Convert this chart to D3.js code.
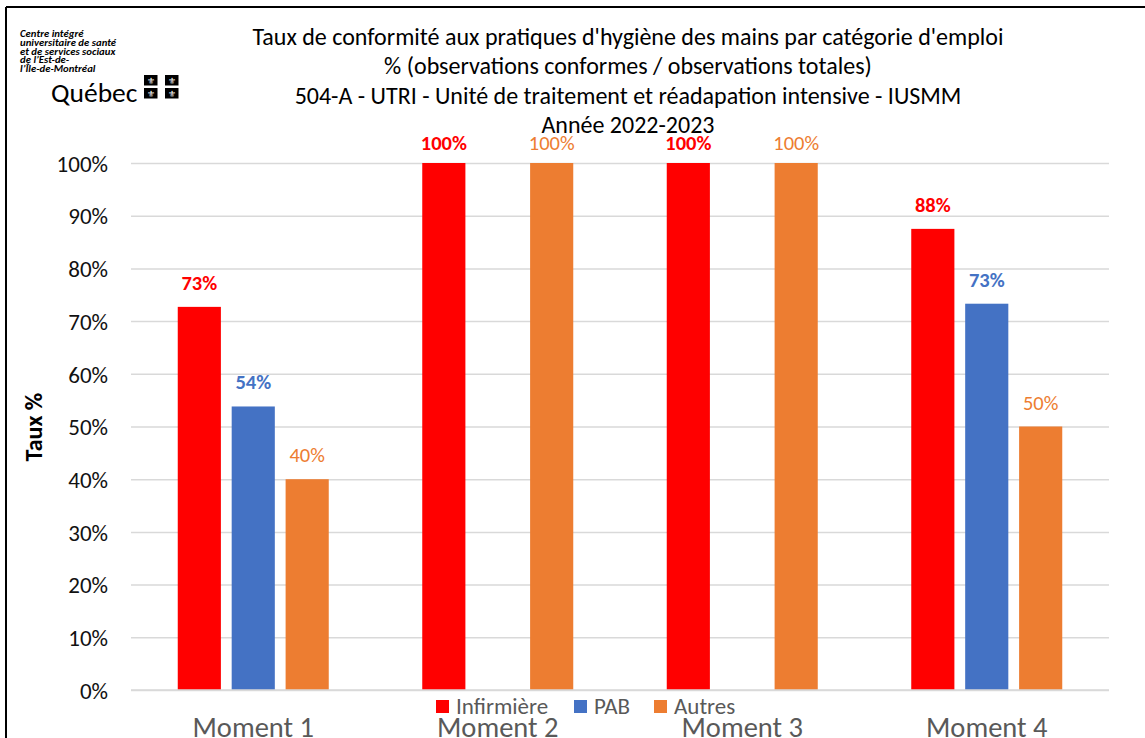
<!DOCTYPE html>
<html><head><meta charset="utf-8">
<script src="https://cdn.jsdelivr.net/npm/d3@7"></script>
<style>
body{margin:0;background:#fff;}
svg{display:block;}
text{font-family:Carlito, Calibri, Lato, "Open Sans", sans-serif;}
</style></head>
<body>
<svg id="chart" width="1145" height="738"></svg>
<script>
const categories = ["Moment 1", "Moment 2", "Moment 3", "Moment 4"];
const seriesNames = ["Infirmière", "PAB", "Autres"];
const infirmiere = [0.727, 1.0, 1.0, 0.875];
const pab = [0.538, null, null, 0.733];
const autres = [0.40, 1.0, 1.0, 0.50];
const yTicks = [0, 0.1, 0.2, 0.3, 0.4, 0.5, 0.6, 0.7, 0.8, 0.9, 1.0];
const titleLines = [
  "Taux de conformité aux pratiques d'hygiène des mains par catégorie d'emploi",
  "% (observations conformes / observations totales)",
  "504-A - UTRI - Unité de traitement et réadapation intensive - IUSMM",
  "Année 2022-2023"
];
const logoLines = ["Centre intégré", "universitaire de santé", "et de services sociaux", "de l’Est-de-", "l’Île-de-Montréal"];

const colors = {"Infirmière": "#FF0000", "PAB": "#4472C4", "Autres": "#ED7D31"};
const labelWeight = {"Infirmière": "bold", "PAB": "bold", "Autres": "normal"};
const seriesData = {"Infirmière": infirmiere, "PAB": pab, "Autres": autres};

const svg = d3.select("#chart");

// frame
svg.append("line").attr("x1", 6).attr("x2", 1145).attr("y1", 7).attr("y2", 7).attr("stroke", "#000").attr("stroke-width", 2);
svg.append("line").attr("x1", 6).attr("x2", 6).attr("y1", 7).attr("y2", 738).attr("stroke", "#000").attr("stroke-width", 2);

const x0 = d3.scaleBand().domain(categories).range([131, 1109]).padding(0);
const x1 = d3.scaleBand().domain(seriesNames).range([-75.5, 75.5]).paddingInner(0.2).paddingOuter(0);
const y = d3.scaleLinear().domain([0, 1]).range([690, 163]);

// gridlines + tick labels
const yAxis = d3.axisLeft(y).tickValues(yTicks).tickFormat(d3.format(".0%")).tickSize(-(1109 - 131)).tickPadding(23);
const gAxis = svg.append("g").attr("transform", "translate(131,0)").call(yAxis);
gAxis.select(".domain").remove();
gAxis.selectAll(".tick line").attr("stroke", "#D9D9D9").attr("stroke-width", 1.5);
gAxis.selectAll(".tick text").attr("font-size", 23).attr("fill", "#111").attr("dy", "0.36em")
  .attr("font-family", "Carlito, Calibri, Lato, sans-serif");

// bars
const groups = svg.append("g").selectAll("g").data(categories).join("g")
  .attr("transform", d => `translate(${x0(d) + x0.bandwidth() / 2},0)`);

seriesNames.forEach(s => {
  const vals = seriesData[s];
  const present = categories.filter((c, i) => vals[i] != null);
  groups.filter(d => present.includes(d)).append("rect")
    .attr("x", x1(s)).attr("width", x1.bandwidth())
    .attr("y", d => y(vals[categories.indexOf(d)]))
    .attr("height", d => y(0) - y(vals[categories.indexOf(d)]))
    .attr("fill", colors[s]);
  groups.filter(d => present.includes(d)).append("text")
    .attr("x", x1(s) + x1.bandwidth() / 2)
    .attr("y", d => Math.max(y(vals[categories.indexOf(d)]) - 17, 150))
    .attr("text-anchor", "middle")
    .attr("font-size", 20.5)
    .attr("font-weight", labelWeight[s])
    .attr("fill", colors[s])
    .text(d => d3.format(".0%")(vals[categories.indexOf(d)]));
});

// baseline
svg.append("line").attr("x1", 131).attr("x2", 1109).attr("y1", y(0)).attr("y2", y(0)).attr("stroke", "#D9D9D9").attr("stroke-width", 1.5);

// x labels
const xAxis = d3.axisBottom(x0).tickSize(0).tickPadding(0);
const gx = svg.append("g").attr("transform", "translate(0,690)").call(xAxis);
gx.select(".domain").remove();
gx.selectAll(".tick text").attr("font-size", 28.5).attr("fill", "#595959").attr("dy", 0).attr("y", 47)
  .attr("font-family", "Carlito, Calibri, Lato, sans-serif");

// legend
const legendX = [436, 574, 654];
const leg = svg.append("g").selectAll("g").data(seriesNames).join("g")
  .attr("transform", (d, i) => `translate(${legendX[i]},700)`);
leg.append("rect").attr("width", 13).attr("height", 13).attr("fill", d => colors[d]);
leg.append("text").attr("x", 20).attr("y", 13.5).attr("font-size", 23).attr("fill", "#595959").text(d => d);

// title
svg.append("g").selectAll("text").data(titleLines).join("text")
  .attr("x", 628).attr("y", (d, i) => 45 + i * 29.3)
  .attr("text-anchor", "middle").attr("font-size", 24).attr("fill", "#000").text(d => d);

// y axis title
svg.append("text").attr("transform", "translate(42,427) rotate(-90)")
  .attr("text-anchor", "middle").attr("font-size", 24).attr("font-weight", "bold").attr("fill", "#000").text("Taux %");

// logo
const logo = svg.append("g");
const logoTxt = logo.append("g").attr("transform", "translate(20,0) scale(1.12,1)");
logoTxt.selectAll("text").data(logoLines).join("text")
  .attr("x", 0).attr("y", (d, i) => 37 + i * 8.8)
  .attr("font-size", 9.6).attr("font-weight", "bold").attr("font-style", "italic")
  .attr("font-family", "'DejaVu Sans', sans-serif").attr("fill", "#000").text(d => d);
logo.append("text").attr("x", 51).attr("y", 102).attr("font-size", 27.5).attr("font-family", "'Liberation Sans', sans-serif").attr("fill", "#000").text("Québec");
const sq = [[144, 75], [165, 75], [144, 88], [165, 88]];
sq.forEach(([sx, sy]) => {
  logo.append("rect").attr("x", sx).attr("y", sy).attr("width", 13.5).attr("height", 10.5).attr("fill", "#000");
  logo.append("text").attr("x", sx + 6.75).attr("y", sy + 8.8).attr("text-anchor", "middle").attr("font-size", 9)
    .attr("font-family", "'DejaVu Sans', sans-serif").attr("fill", "#fff").text("⚜");
});
</script>
</body></html>
